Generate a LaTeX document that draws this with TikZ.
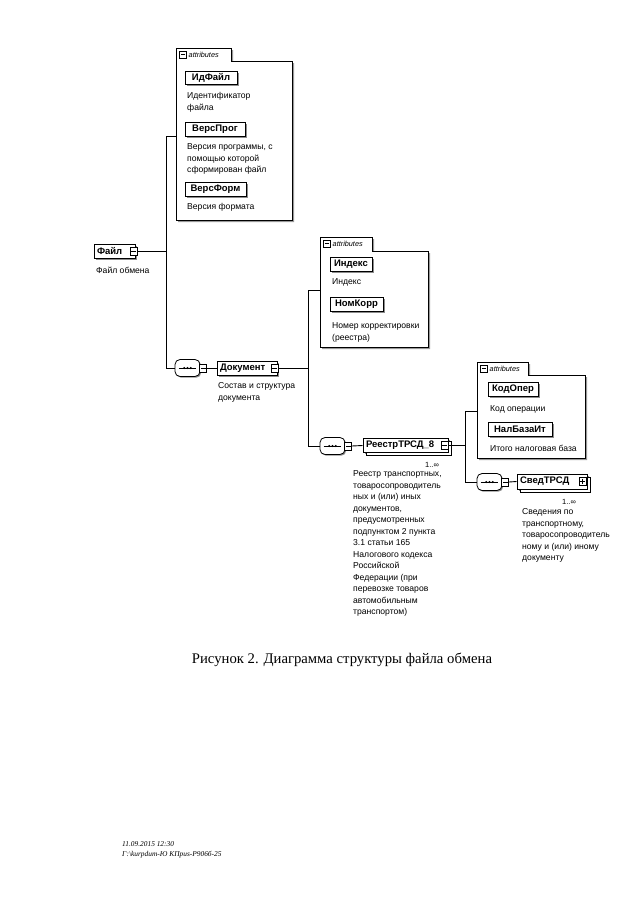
\documentclass[tikz,border=0pt]{standalone}
\usepackage{fontspec}
\setmainfont{Liberation Serif}
\setsansfont{Liberation Sans}
\usetikzlibrary{shadows}
\begin{document}
\begin{tikzpicture}[x=1pt,y=-1pt]
\tikzset{
  conn/.style={line width=0.9pt},
  elem/.style={draw, line width=1pt, fill=white,
    font=\sffamily\bfseries\fontsize{9.5}{10}\selectfont,
    inner xsep=3pt, inner ysep=0pt, minimum height=14pt,
    drop shadow={shadow xshift=1.5pt, shadow yshift=-1.5pt, fill=black!45, opacity=1}},
  multi/.style={copy shadow={shadow xshift=3pt, shadow yshift=-3pt, fill=white, draw, line width=0.6pt}},
  ic/.style={draw, fill=white, line width=0.6pt, minimum width=7pt, minimum height=8pt, inner sep=0pt},
  icminus/.style={ic, path picture={\draw[line width=0.5pt] ([xshift=1.2pt]path picture bounding box.west) -- ([xshift=-1.2pt]path picture bounding box.east);}},
  icplus/.style={ic, path picture={\draw[line width=0.5pt] ([xshift=1.2pt]path picture bounding box.west) -- ([xshift=-1.2pt]path picture bounding box.east) ([yshift=-1.2pt]path picture bounding box.north) -- ([yshift=1.2pt]path picture bounding box.south);}},
  seqbox/.style={draw, line width=0.8pt, fill=white, rounded corners=5pt, minimum width=25pt, minimum height=17pt, inner sep=0pt,
    drop shadow={shadow xshift=1.2pt, shadow yshift=-1.2pt, fill=black!45, opacity=1}},
  desc/.style={font=\sffamily\fontsize{8.6}{11.5}\selectfont, align=left, anchor=north west, inner sep=0pt},
  occ/.style={font=\sffamily\fontsize{7.5}{8}\selectfont, inner sep=0pt},
  attrline/.style={draw, line width=0.8pt, fill=white},
  attrshadow/.style={fill=black!40},
  tabtext/.style={font=\sffamily\itshape\fontsize{7.3}{8}\selectfont, anchor=west, inner sep=0pt},
  tabic/.style={icminus, minimum width=6.5pt, minimum height=7pt},
}
\fill[white] (0,0) rectangle (640,905);
\useasboundingbox (0,0) rectangle (640,905);

% ---------- attributes box 1 ----------
\fill[attrshadow, shift={(2,2)}] (176,220) -- (176,48) -- (231,48) -- (231,61) -- (292,61) -- (292,220) -- cycle;
\path[attrline] (176,220) -- (176,48) -- (231,48) -- (231,61) -- (292,61) -- (292,220) -- cycle;
\node[tabic] (t1i) at (183,54.5) {};
\node[tabtext] (t1) at (188.5,55) {attributes};

\node[elem, minimum width=52pt, minimum height=13pt] (idf) at (211,78) {ИдФайл};
\node[desc] (didf) at (187,92.5) {Идентификатор\\файла};
\node[elem, minimum width=60pt] (vp) at (215,129.5) {ВерсПрог};
\node[desc] (dvp) at (187,143.5) {Версия программы, с\\помощью которой\\сформирован файл};
\node[elem, minimum width=61pt] (vf) at (215.5,189.5) {ВерсФорм};
\node[desc] (dvf) at (187,203.5) {Версия формата};

% ---------- Файл ----------
\node[elem, minimum width=41pt, text width=35pt, align=left] (file) at (114.5,251.5) {Файл};
\node[icminus] (fileic) at ([xshift=-2pt]file.east) {};
\node[desc] (dfile) at (96,266.5) {Файл обмена};

\coordinate (v1top) at (166,136);
\coordinate (v1bot) at (166,368);
\coordinate (a1w) at (176,136);
\draw[conn] (fileic.east) -- (fileic.east -| v1top);
\draw[conn] (v1top) -- (v1bot);
\draw[conn] (v1top) -- (a1w);

% ---------- sequence 1 + Документ ----------
\node[seqbox] (seqA) at (187.5,368) {};
\draw[line width=0.5pt] ([xshift=4pt]seqA.west) -- ([xshift=-4pt]seqA.east);
\foreach \dx in {-3.2,0,3.2} \fill ([xshift=\dx pt]seqA.center) circle (1.1pt);
\node[icminus, anchor=west] (seqAs) at ([xshift=-1pt]seqA.east) {};
\draw[conn] (v1bot) -- (seqA.west);

\node[elem, minimum width=60pt, text width=54pt, align=left] (doc) at (247,368) {Документ};
\node[icminus] (docic) at ([xshift=-3pt]doc.east) {};
\draw[conn] (seqAs.east) -- (doc.west);
\node[desc] (ddoc) at (218,382.5) {Состав и структура\\документа};

% ---------- attributes box 2 ----------
\fill[attrshadow, shift={(2,2)}] (320,347) -- (320,237) -- (372,237) -- (372,251) -- (428,251) -- (428,347) -- cycle;
\path[attrline] (320,347) -- (320,237) -- (372,237) -- (372,251) -- (428,251) -- (428,347) -- cycle;
\node[tabic] (t2i) at (327,243.5) {};
\node[tabtext] (t2) at (332.5,244) {attributes};

\node[elem, minimum width=42pt] (ind) at (351,264.5) {Индекс};
\node[desc] (dind) at (332,278.5) {Индекс};
\node[elem, minimum width=53pt] (nk) at (356.5,304.5) {НомКорр};
\node[desc] (dnk) at (332,322.5) {Номер корректировки\\(реестра)};

\coordinate (v2top) at (308,290);
\coordinate (v2bot) at (308,446);
\coordinate (a2w) at (320,290);
\draw[conn] (docic.east) -- (docic.east -| v2top);
\draw[conn] (v2top) -- (v2bot);
\draw[conn] (v2top) -- (a2w);

% ---------- sequence 2 + РеестрТРСД_8 ----------
\node[seqbox] (seqB) at (332.5,446) {};
\draw[line width=0.5pt] ([xshift=4pt]seqB.west) -- ([xshift=-4pt]seqB.east);
\foreach \dx in {-3.2,0,3.2} \fill ([xshift=\dx pt]seqB.center) circle (1.1pt);
\node[icminus, anchor=west] (seqBs) at ([xshift=-1pt]seqB.east) {};
\draw[conn] (v2bot) -- (seqB.west);

\node[elem, multi, minimum width=85pt, text width=79pt, align=left] (reg) at (405.5,445.5) {РеестрТРСД\_8};
\node[icminus] (regic) at ([xshift=-4pt]reg.east) {};
\draw[conn] (seqBs.east) -- (reg.west);
\node[occ] (oreg) at (432,464.5) {1..∞};
\node[desc] (dreg) at (353,470.5) {Реестр транспортных,\\товаросопроводитель\\ных и (или) иных\\документов,\\предусмотренных\\подпунктом 2 пункта\\3.1 статьи 165\\Налогового кодекса\\Российской\\Федерации (при\\перевозке товаров\\автомобильным\\транспортом)};

% ---------- attributes box 3 ----------
\fill[attrshadow, shift={(2,2)}] (477,458) -- (477,362) -- (528,362) -- (528,375) -- (585,375) -- (585,458) -- cycle;
\path[attrline] (477,458) -- (477,362) -- (528,362) -- (528,375) -- (585,375) -- (585,458) -- cycle;
\node[tabic] (t3i) at (484,368.5) {};
\node[tabtext] (t3) at (489.5,369) {attributes};

\node[elem, minimum width=50pt] (ko) at (513,389.5) {КодОпер};
\node[desc] (dko) at (490,405.5) {Код операции};
\node[elem, minimum width=64pt] (nb) at (520,429.5) {НалБазаИт};
\node[desc] (dnb) at (490,444.5) {Итого налоговая база};

\coordinate (v3top) at (465,411);
\coordinate (v3bot) at (465,482);
\coordinate (a3w) at (477,411);
\draw[conn] (regic.east) -- (regic.east -| v3top);
\draw[conn] (v3top) -- (v3bot);
\draw[conn] (v3top) -- (a3w);

% ---------- sequence 3 + СведТРСД ----------
\node[seqbox] (seqC) at (489.5,482) {};
\draw[line width=0.5pt] ([xshift=4pt]seqC.west) -- ([xshift=-4pt]seqC.east);
\foreach \dx in {-3.2,0,3.2} \fill ([xshift=\dx pt]seqC.center) circle (1.1pt);
\node[icminus, anchor=west] (seqCs) at ([xshift=-1pt]seqC.east) {};
\draw[conn] (v3bot) -- (seqC.west);

\node[elem, multi, minimum width=70pt, text width=64pt, align=left, minimum height=15pt] (sved) at (552,481.5) {СведТРСД};
\node[icplus] (svedic) at ([xshift=-5pt]sved.east) {};
\draw[conn] (seqCs.east) -- (sved.west);
\node[occ] (osved) at (569,501.5) {1..∞};
\node[desc] (dsved) at (522,508.5) {Сведения по\\транспортному,\\товаросопроводитель\\ному и (или) иному\\документу};

% ---------- caption and footer ----------
\node[font=\fontsize{14.7}{16}\selectfont, inner sep=0pt] (cap) at (342,660) {Рисунок 2. Диаграмма структуры файла обмена};
\node[font=\itshape\fontsize{7.4}{10}\selectfont, align=left, anchor=north west, inner sep=0pt] (foot) at (122,841) {11.09.2015 12:30\\Г:\textbackslash kurpdum-Ю КПриs-Р906б-25};
\end{tikzpicture}
\end{document}
